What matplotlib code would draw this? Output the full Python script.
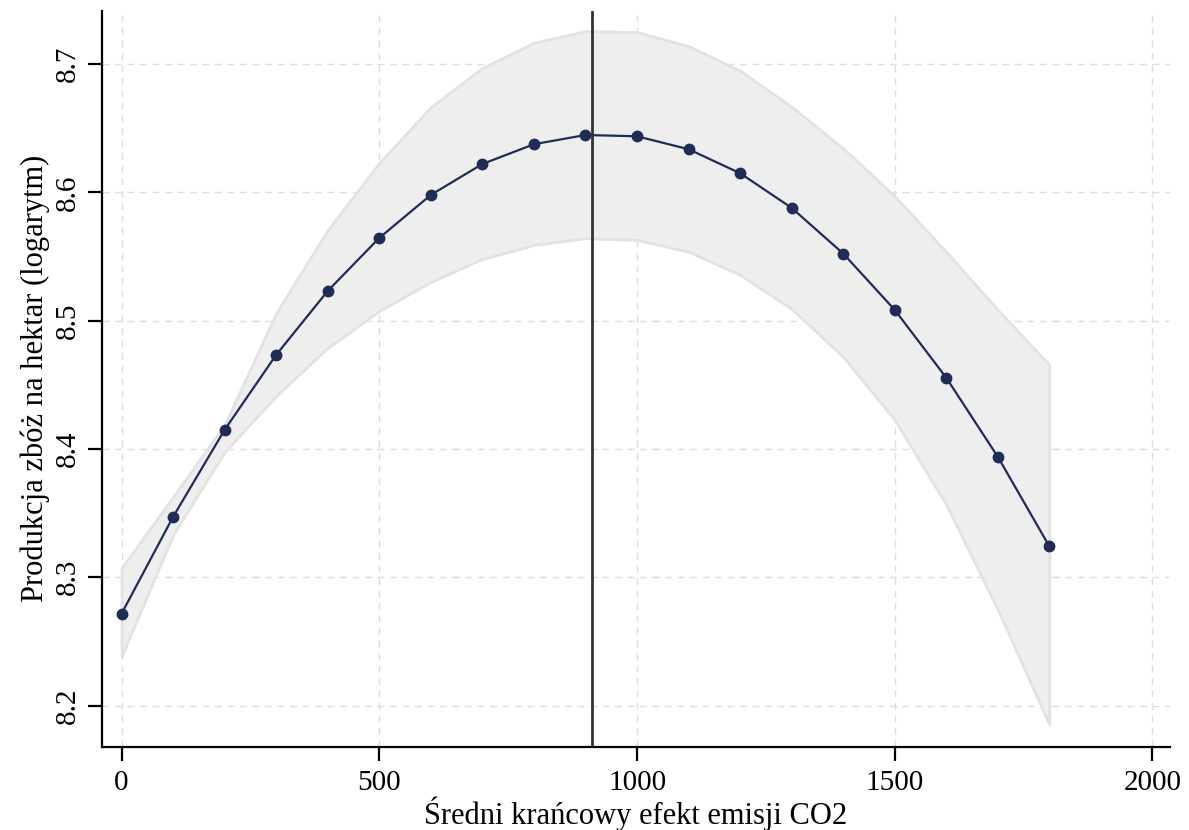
import matplotlib
matplotlib.use("Agg")
import matplotlib.pyplot as plt

plt.rcParams['font.family'] = ['Liberation Serif', 'DejaVu Serif']

# co2 marginal effect levels
co2 = [0, 100, 200, 300, 400, 500, 600, 700, 800, 900,
       1000, 1100, 1200, 1300, 1400, 1500, 1600, 1700, 1800]
# predicted log cereal yield
yhat = [8.2717, 8.3472, 8.4150, 8.4734, 8.5232, 8.5645, 8.5980, 8.6221, 8.6375, 8.6447,
        8.6437, 8.6336, 8.6149, 8.5879, 8.5523, 8.5084, 8.4555, 8.3939, 8.3241]
ci_hi = [8.3073, 8.3628, 8.4190, 8.5060, 8.5707, 8.6230, 8.6665, 8.6970, 8.7166, 8.7257,
         8.7249, 8.7140, 8.6948, 8.6667, 8.6343, 8.5970, 8.5536, 8.5084, 8.4656]
ci_lo = [8.2384, 8.3332, 8.3978, 8.4414, 8.4788, 8.5076, 8.5302, 8.5481, 8.5590, 8.5643,
         8.5629, 8.5538, 8.5357, 8.5092, 8.4718, 8.4227, 8.3565, 8.2748, 8.1852]
turning_point = 913

xticks = [0, 500, 1000, 1500, 2000]
yticks = [8.2, 8.3, 8.4, 8.5, 8.6, 8.7]

fig = plt.figure(figsize=(11.89, 8.30), dpi=100)
ax = fig.add_axes([0.0858, 0.1004, 0.8982, 0.8866])

ax.fill_between(co2, ci_lo, ci_hi, facecolor='#eeeeee', edgecolor='#e2e2e2', linewidth=2, zorder=2)
ax.plot(co2, yhat, color='#1f2d56', linewidth=1.6, marker='o', markersize=7.5, zorder=4)
ax.axvline(turning_point, color='#333333', linewidth=2, zorder=5)

ax.set_xlim(-38, 2034)
ax.set_ylim(8.168, 8.7415)
ax.set_xticks(xticks)
ax.set_yticks(yticks)
ax.set_yticklabels([str(v) for v in yticks], rotation=90, va='center')
ax.grid(True, color='#dddddd', linestyle=(0, (5, 4)), linewidth=1, zorder=0)
ax.set_axisbelow(True)

for s in ['top', 'right']:
    ax.spines[s].set_visible(False)
for s in ['left', 'bottom']:
    ax.spines[s].set_linewidth(1.6)
ax.tick_params(axis='both', direction='out', length=10, width=1.6, labelsize=21)
ax.tick_params(axis='x', pad=7)
ax.tick_params(axis='y', pad=5)

ax.set_xlabel('Średni krańcowy efekt emisji CO2', fontsize=22, labelpad=0)
ax.set_ylabel('Produkcja zbóż na hektar (logarytm)', fontsize=22, labelpad=4)

fig.savefig('out.png', dpi=100)
